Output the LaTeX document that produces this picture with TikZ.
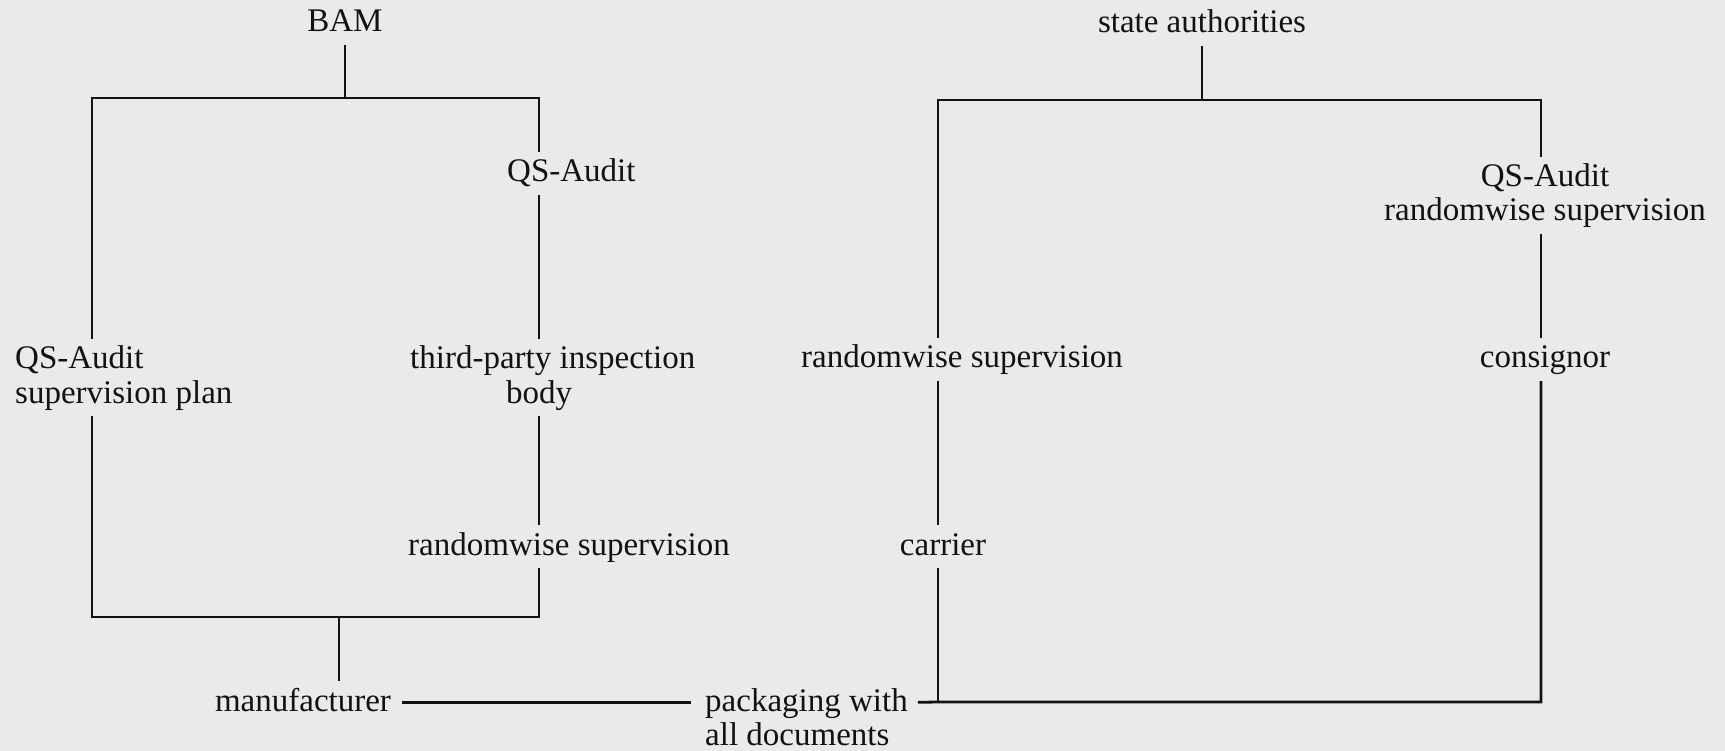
\documentclass[tikz,border=0pt]{standalone}
\usepackage{fontspec}
\setmainfont{Liberation Serif}
\definecolor{paper}{RGB}{234,234,234}
\definecolor{ink}{RGB}{18,18,18}
\tikzset{
  lbl/.style={font=\fontsize{33}{34}\selectfont, text=ink, text height=24pt, text depth=7pt,
    inner xsep=0pt, inner ysep=6pt, anchor=base},
  lblw/.style={lbl, anchor=base west},
  wire/.style={draw=ink, line width=2.8pt}
}
\begin{document}
\begin{tikzpicture}[x=1pt,y=1pt]
\fill[paper] (0,0) rectangle (1725,-751);
\useasboundingbox (0,0) rectangle (1725,-751);

% ---------- left part ----------
\node[lbl] (bam) at (345,-32) {BAM};
\node[lblw] (qsA) at (15,-369) {QS-Audit};
\node[lblw] (sp) at (15,-403) {supervision plan};
\node[lblw] (qsB) at (507,-182) {QS-Audit};
\node[lblw] (tp) at (410,-369) {third-party inspection};
\node[lbl] (body) at (539,-403) {body};
\node[lblw] (rw1) at (408,-555) {randomwise supervision};
\node[lbl] (manu) at (303,-711) {manufacturer};
\node[lblw] (pk1) at (705,-711) {packaging with};
\node[lblw] (pk2) at (705,-745) {all documents};

\coordinate (Ltl) at (92,-98);
\coordinate (Ltr) at (539,-98);
\coordinate (Lbl) at (92,-617);
\coordinate (Lbr) at (539,-617);
\coordinate (Ltop) at (345,-98);
\coordinate (Lbot) at (339,-617);

\draw[wire] (bam) -- (Ltop);
\draw[wire] (Ltl |- qsA.north) -- (Ltl) -- (Ltr) -- (Ltr |- qsB.north);
\draw[wire] (Ltr |- qsB.south) -- (Ltr |- tp.north);
\draw[wire] (Ltr |- body.south) -- (Ltr |- rw1.north);
\draw[wire] (Ltr |- rw1.south) -- (Lbr) -- (Lbl) -- (Lbl |- sp.south);
\draw[wire] (Lbot) -- (Lbot |- manu.north);
\draw[wire, shorten <=11pt, shorten >=14pt] (manu.east) -- (pk1.west);

% ---------- right part ----------
\node[lbl] (sa) at (1202,-33) {state authorities};
\node[lbl] (qsC) at (1545,-187) {QS-Audit};
\node[lbl] (rw3) at (1545,-221) {randomwise supervision};
\node[lbl] (cons) at (1545,-368) {consignor};
\node[lblw] (rw2) at (801,-368) {randomwise supervision};
\node[lbl] (carr) at (943,-555) {carrier};

\coordinate (Rtl) at (938,-100);
\coordinate (Rtr) at (1541,-100);
\coordinate (Rbl) at (938,-702);
\coordinate (Rbr) at (1541,-702);
\coordinate (Rtop) at (1202,-100);

\draw[wire] (sa) -- (Rtop);
\draw[wire] (Rtl |- rw2.north) -- (Rtl) -- (Rtr) -- (Rtr |- qsC.north);
\draw[wire] (Rtr |- rw3.south) -- (Rtr |- cons.north);
\draw[wire] (Rtl |- rw2.south) -- (Rtl |- carr.north);
\draw[wire] (Rtl |- carr.south) -- (Rbl);
\draw[wire, shorten <=10pt] (pk1.east) -- (Rbl) -- (Rbr) -- (Rtr |- cons.south);
\end{tikzpicture}
\end{document}
